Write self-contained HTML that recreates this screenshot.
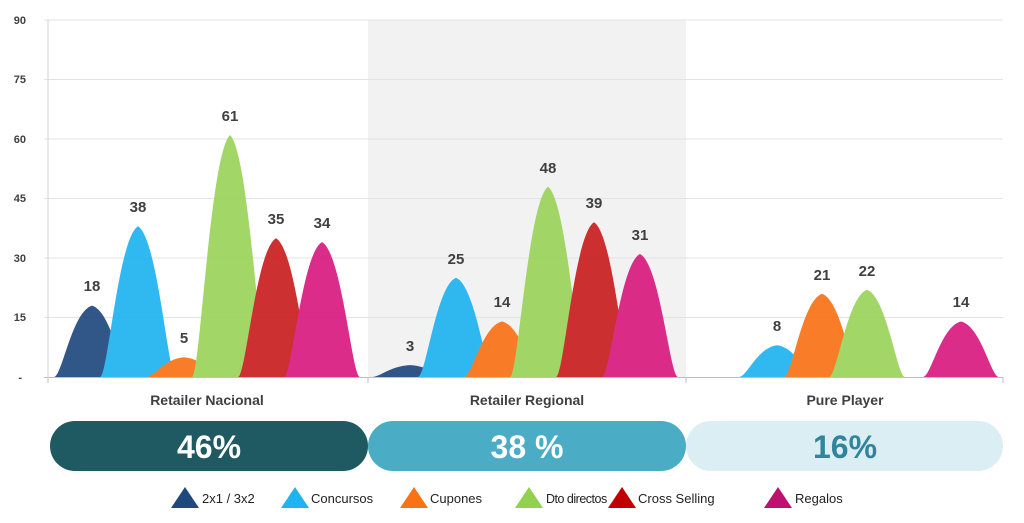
<!DOCTYPE html>
<html><head><meta charset="utf-8"><style>
body{margin:0;background:#fff;font-family:"Liberation Sans",sans-serif}
</style></head><body>
<svg width="1024" height="518" xmlns="http://www.w3.org/2000/svg" font-family="Liberation Sans, sans-serif">
<rect x="368" y="20" width="318" height="357" fill="#f2f2f2"/>
<g stroke="#e3e3e3" stroke-width="1">
<line x1="44" y1="20" x2="1003" y2="20"/><line x1="44" y1="79.5" x2="1003" y2="79.5"/>
<line x1="44" y1="139" x2="1003" y2="139"/><line x1="44" y1="198.5" x2="1003" y2="198.5"/>
<line x1="44" y1="258" x2="1003" y2="258"/><line x1="44" y1="317.5" x2="1003" y2="317.5"/>
</g>
<line x1="48" y1="20" x2="48" y2="377" stroke="#d0d0d0"/>
<g font-size="11" font-weight="bold" fill="#404040" text-anchor="end">
<text x="26" y="24">90</text><text x="26" y="83">75</text><text x="26" y="143">60</text>
<text x="26" y="202">45</text><text x="26" y="262">30</text><text x="26" y="321">15</text><text x="22" y="381">-</text>
</g>
<g opacity="0.92">
<path fill="#1f497d" d="M54,377 C62,377 72,311.3 92,305.6 C112,311.3 122,377 130,377 Z"/>
<path fill="#1fb4f0" d="M100,377 C108,377 118,238.4 138,226.3 C158,238.4 168,377 176,377 Z"/>
<path fill="#f97316" d="M146,377 C154,377 164,358.8 184,357.2 C204,358.8 214,377 222,377 Z"/>
<path fill="#9bd35a" d="M192,377 C200,377 210,154.4 230,135 C250,154.4 260,377 268,377 Z"/>
<path fill="#c91f1f" d="M238,377 C246,377 256,249.3 276,238.2 C296,249.3 306,377 314,377 Z"/>
<path fill="#d81b7f" d="M284,377 C292,377 302,252.9 322,242.1 C342,252.9 352,377 360,377 Z"/>

<path fill="#1f497d" d="M372,377 C380,377 390,366.1 410,365.1 C430,366.1 440,377 448,377 Z"/>
<path fill="#1fb4f0" d="M418,377 C426,377 436,285.7 456,277.8 C476,285.7 486,377 494,377 Z"/>
<path fill="#f97316" d="M464,377 C472,377 482,325.9 502,321.5 C522,325.9 532,377 540,377 Z"/>
<path fill="#9bd35a" d="M510,377 C518,377 528,201.8 548,186.6 C568,201.8 578,377 586,377 Z"/>
<path fill="#c91f1f" d="M556,377 C564,377 574,234.7 594,222.3 C614,234.7 624,377 632,377 Z"/>
<path fill="#d81b7f" d="M602,377 C610,377 620,263.8 640,254 C660,263.8 670,377 678,377 Z"/>

<path fill="#1fb4f0" d="M739,377 C747,377 757,347.8 777,345.3 C797,347.8 807,377 815,377 Z"/>
<path fill="#f97316" d="M784,377 C792,377 802,300.4 822,293.7 C842,300.4 852,377 860,377 Z"/>
<path fill="#9bd35a" d="M829,377 C837,377 847,296.7 867,289.7 C887,296.7 897,377 905,377 Z"/>
<path fill="#d81b7f" d="M923,377 C931,377 941,325.9 961,321.5 C981,325.9 991,377 999,377 Z"/>
</g>
<line x1="44" y1="377.5" x2="1003" y2="377.5" stroke="#bfbfbf"/>
<g stroke="#bfbfbf"><line x1="48" y1="377" x2="48" y2="383"/><line x1="368" y1="377" x2="368" y2="383"/><line x1="686" y1="377" x2="686" y2="383"/><line x1="1003" y1="377" x2="1003" y2="383"/></g>
<g font-size="15" font-weight="bold" fill="#404040" text-anchor="middle">
<text x="92" y="291">18</text><text x="138" y="212">38</text><text x="184" y="343">5</text>
<text x="230" y="121">61</text><text x="276" y="224">35</text><text x="322" y="228">34</text>
<text x="410" y="351">3</text><text x="456" y="264">25</text><text x="502" y="307">14</text>
<text x="548" y="173">48</text><text x="594" y="208">39</text><text x="640" y="240">31</text>
<text x="777" y="331">8</text><text x="822" y="280">21</text><text x="867" y="276">22</text><text x="961" y="307">14</text>
</g>
<g font-size="14" font-weight="bold" fill="#404040" text-anchor="middle">
<text x="207" y="405">Retailer Nacional</text><text x="527" y="405">Retailer Regional</text><text x="845" y="405">Pure Player</text>
</g>
<rect x="50" y="421" width="318" height="50" rx="25" fill="#1f5a63"/>
<rect x="368" y="421" width="318" height="50" rx="25" fill="#4bacc6"/>
<rect x="686" y="421" width="317" height="50" rx="25" fill="#dbeef3"/>
<g font-size="32" font-weight="bold" text-anchor="middle">
<text x="209" y="458" fill="#fff">46%</text><text x="527" y="458" fill="#fff">38 %</text><text x="845" y="458" fill="#31849b">16%</text>
</g>
<g font-size="13" fill="#222">
<polygon points="171,508 185,487 199,508" fill="#1f497d"/><text x="202" y="503">2x1 / 3x2</text>
<polygon points="281,508 295,487 309,508" fill="#1fb4f0"/><text x="311" y="503">Concursos</text>
<polygon points="400,508 414,487 428,508" fill="#f97316"/><text x="430" y="503">Cupones</text>
<polygon points="515,508 529,487 543,508" fill="#92d050"/><text x="546" y="503" font-size="12.5" letter-spacing="-0.5">Dto directos</text>
<polygon points="608,508 622,487 636,508" fill="#c00000"/><text x="638" y="503">Cross Selling</text>
<polygon points="764,508 778,487 792,508" fill="#c0106f"/><text x="795" y="503">Regalos</text>
</g>
</svg>
</body></html>
